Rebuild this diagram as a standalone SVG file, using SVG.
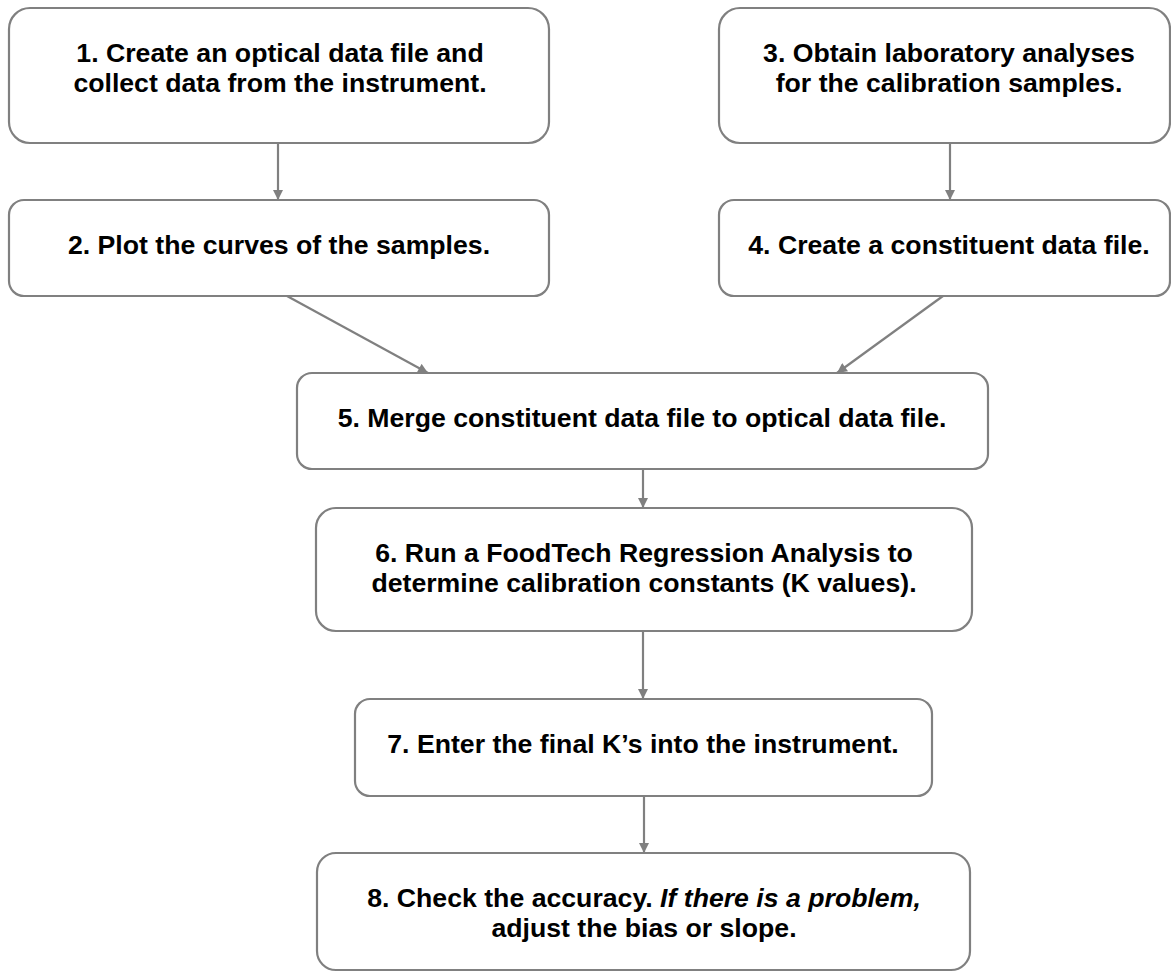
<svg xmlns="http://www.w3.org/2000/svg" width="1171" height="973" viewBox="0 0 1171 973">
<style>
.box{fill:#ffffff;stroke:#808080;stroke-width:2.2}
.t{font-family:"Liberation Sans",Arial,sans-serif;font-weight:bold;font-size:26.67px;fill:#000;text-anchor:middle}
.edge{stroke:#808080;stroke-width:2.2;fill:none;marker-end:url(#ah)}
</style>
<defs>
<marker id="ah" viewBox="0 0 10 10" refX="10" refY="5" markerWidth="11" markerHeight="10" markerUnits="userSpaceOnUse" orient="auto">
<path d="M0,0 L10,5 L0,10 z" fill="#808080"/>
</marker>
</defs>
<rect width="1171" height="973" fill="#ffffff"/>
<g id="n1"><rect class="box" x="9" y="8" width="540" height="135" rx="21"/>
<text class="t" x="280" y="62">1. Create an optical data file and</text>
<text class="t" x="280" y="92">collect data from the instrument.</text></g>
<g id="n2"><rect class="box" x="9" y="200" width="540" height="96" rx="15"/>
<text class="t" x="279" y="254">2. Plot the curves of the samples.</text></g>
<g id="n3"><rect class="box" x="719" y="8" width="451" height="135" rx="21"/>
<text class="t" x="949" y="62">3. Obtain laboratory analyses</text>
<text class="t" x="949" y="92">for the calibration samples.</text></g>
<g id="n4"><rect class="box" x="719" y="200" width="451" height="96" rx="15"/>
<text class="t" x="949" y="254">4. Create a constituent data file.</text></g>
<g id="n5"><rect class="box" x="297" y="373" width="691" height="96" rx="15"/>
<text class="t" x="642" y="427">5. Merge constituent data file to optical data file.</text></g>
<g id="n6"><rect class="box" x="316" y="508" width="656" height="123" rx="20"/>
<text class="t" x="644" y="562">6. Run a FoodTech Regression Analysis to</text>
<text class="t" x="644" y="592">determine calibration constants (K values).</text></g>
<g id="n7"><rect class="box" x="355" y="699" width="577" height="97" rx="15"/>
<text class="t" x="643" y="753">7. Enter the final K’s into the instrument.</text></g>
<g id="n8"><rect class="box" x="317" y="853" width="653" height="117" rx="19"/>
<text class="t" x="644" y="907">8. Check the accuracy. <tspan font-style="italic">If there is a problem,</tspan></text>
<text class="t" x="644" y="937">adjust the bias or slope.</text></g>
<g id="edges">
<line class="edge" x1="278" y1="143" x2="278" y2="200"/>
<line class="edge" x1="950" y1="143" x2="950" y2="200"/>
<line class="edge" x1="287" y1="296" x2="428" y2="373"/>
<line class="edge" x1="943" y1="296" x2="837" y2="373"/>
<line class="edge" x1="643" y1="469" x2="643" y2="508"/>
<line class="edge" x1="643" y1="631" x2="643" y2="699"/>
<line class="edge" x1="644" y1="796" x2="644" y2="853"/>
</g>
</svg>
